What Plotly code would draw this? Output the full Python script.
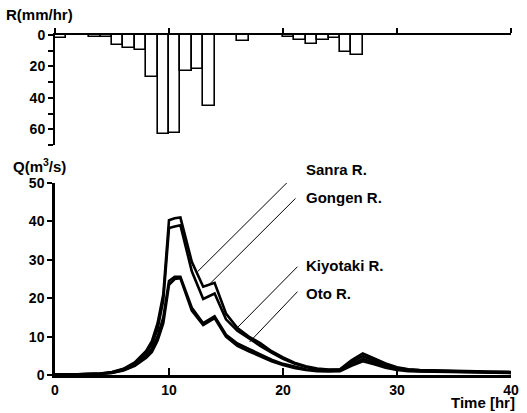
import plotly.graph_objects as go

# ---------------- data ----------------
rain_hours = list(range(40))
rain = [2, 0, 0, 1, 1, 6.5, 8.5, 9.5, 27, 63, 62.5, 23, 21.5, 45, 0, 0, 4, 0, 0, 0,
        1.5, 3, 6, 3, 2, 11, 12.5, 0, 0, 0, 0, 0, 0, 0, 0, 0, 0, 0, 0, 0]

t_q = [0, 1, 2, 3, 4, 5, 6, 7, 8, 8.5, 9, 9.5, 10, 10.5, 11,
       12, 13, 14, 15, 16, 17, 18, 19, 20, 21, 22, 23, 24, 25, 26, 27, 28, 29, 30, 31, 32,
       34, 36, 38, 40]
q_sanra = [0.1, 0.1, 0.2, 0.3, 0.4, 0.8, 1.6, 3.3, 6.3, 8.8, 13.5, 21, 40.3, 40.8, 41,
           29.5, 23, 24, 16, 12.2, 10, 8.3, 6.2, 4.6, 3.2, 2.3, 1.7, 1.4, 1.5, 3.8, 5.6, 4.3, 3, 2, 1.5, 1.3,
           1.1, 1, 0.9, 0.8]
q_gongen = [0.1, 0.1, 0.2, 0.3, 0.4, 0.7, 1.5, 3, 5.8, 8, 12, 19.5, 38.3, 38.7, 39,
            27, 19.8, 21.2, 14.5, 11.5, 9.5, 7.6, 5.8, 4.2, 3, 2.1, 1.5, 1.3, 1.4, 3.3, 4.9, 3.8, 2.6, 1.8, 1.4, 1.2,
            1, 0.9, 0.8, 0.7]
q_kiyotaki = [0.1, 0.1, 0.1, 0.2, 0.3, 0.6, 1.3, 2.6, 5, 6.8, 10, 15, 24.5, 25.6, 25.6,
              17.5, 13.5, 15.3, 10.5, 8.2, 6.8, 5.3, 4, 2.9, 2.1, 1.5, 1.2, 1.1, 1.2, 2.8, 4.2, 3.2, 2.2, 1.5, 1.2, 1,
              0.9, 0.8, 0.7, 0.6]
q_oto = [0.1, 0.1, 0.1, 0.2, 0.3, 0.5, 1.2, 2.4, 4.5, 6, 9, 13.5, 23.5, 25, 25.2,
         16.8, 13, 14.8, 10, 7.6, 6.2, 4.8, 3.6, 2.6, 1.8, 1.3, 1, 0.9, 1, 2.4, 3.6, 2.8, 1.9, 1.3, 1, 0.9,
         0.8, 0.7, 0.6, 0.5]

series = [("Sanra R.", q_sanra), ("Gongen R.", q_gongen),
          ("Kiyotaki R.", q_kiyotaki), ("Oto R.", q_oto)]

# label placement: text x (hours) and y (paper), leader lines in data units of lower plot
label_text_x = [21.8, 21.8, 21.8, 21.8]
label_text_ypaper = [0.603, 0.523, 0.321, 0.239]
leader_start = [(21.27, 52.8), (21.1, 46.0), (21.27, 28.2), (21.27, 21.7)]
leader_end = [(12.5, 26.9), (13.4, 23.2), (15.95, 12.2), (17.07, 8.6)]

FONT = "Liberation Sans, Arial, sans-serif"

fig = go.Figure()

fig.add_trace(go.Bar(
    x=[h + 0.5 for h in rain_hours], y=rain, width=1,
    marker=dict(color="white", line=dict(color="black", width=1.6)),
    xaxis="x", yaxis="y", showlegend=False))

for name, q in series:
    fig.add_trace(go.Scatter(
        x=t_q, y=q, mode="lines", name=name,
        line=dict(color="black", width=2.6),
        xaxis="x2", yaxis="y2", showlegend=False))

annotations = []
shapes = []
for (name, _), tx, ty, (sx, sy), (ex, ey) in zip(series, label_text_x, label_text_ypaper,
                                                leader_start, leader_end):
    annotations.append(dict(x=tx, y=ty, xref="x2", yref="paper", text=name, showarrow=False,
                            xanchor="left", yanchor="middle",
                            font=dict(family=FONT, size=15, color="black", weight="bold")))
    shapes.append(dict(type="line", xref="x2", yref="y2", x0=sx, y0=sy, x1=ex, y1=ey,
                       line=dict(color="black", width=1)))

annotations += [
    dict(x=-0.112, y=1.059, xref="paper", yref="paper", text="R(mm/hr)", showarrow=False,
         xanchor="left", yanchor="middle", font=dict(family=FONT, size=15, color="black", weight="bold")),
    dict(x=-0.097, y=0.615, xref="paper", yref="paper", text="Q(m<sup>3</sup>/s)", showarrow=False,
         xanchor="left", yanchor="middle", font=dict(family=FONT, size=15, color="black", weight="bold")),
    dict(x=1.013, y=-0.082, xref="paper", yref="paper", text="Time [hr]", showarrow=False,
         xanchor="right", yanchor="middle", font=dict(family=FONT, size=15, color="black", weight="bold")),
]

tickfont = dict(family=FONT, size=14, color="black", weight="bold")

fig.update_layout(
    width=527, height=413,
    margin=dict(l=55, r=8, t=35, b=38),
    paper_bgcolor="white", plot_bgcolor="white",
    bargap=0,
    xaxis=dict(domain=[0, 1], anchor="y", side="top", range=[0, 40],
               tickvals=[0, 10, 20, 30, 40], showticklabels=False,
               ticks="outside", ticklen=5, tickwidth=1.5, tickcolor="black",
               showline=True, linecolor="black", linewidth=2,
               showgrid=False, zeroline=False),
    yaxis=dict(domain=[0.6765, 1], anchor="x", range=[70, 0],
               tickvals=[0, 20, 40, 60], ticks="outside", ticklen=5, tickwidth=1.5,
               tickcolor="black", tickfont=tickfont,
               minor=dict(tickvals=[10, 30, 50, 70], ticks="outside", ticklen=5,
                          tickwidth=1.5, tickcolor="black"),
               showline=True, linecolor="black", linewidth=2,
               showgrid=False, zeroline=False),
    xaxis2=dict(domain=[0, 1], anchor="y2", range=[0, 40],
                tickvals=[0, 10, 20, 30, 40], ticks="inside", ticklen=7, tickwidth=1.5,
                tickcolor="black", tickfont=tickfont,
                showline=True, linecolor="black", linewidth=2.5,
                showgrid=False, zeroline=False),
    yaxis2=dict(domain=[0, 0.5647], anchor="x2", range=[0, 50],
                tickvals=[0, 10, 20, 30, 40, 50], ticks="outside", ticklen=5, tickwidth=1.5,
                tickcolor="black", tickfont=tickfont,
                showline=True, linecolor="black", linewidth=2.5,
                showgrid=False, zeroline=False),
    annotations=annotations,
    shapes=shapes,
)

fig.write_html("out.html", config={"displayModeBar": False},
               post_script="document.body.style.margin='0';document.body.style.overflow='hidden';")
